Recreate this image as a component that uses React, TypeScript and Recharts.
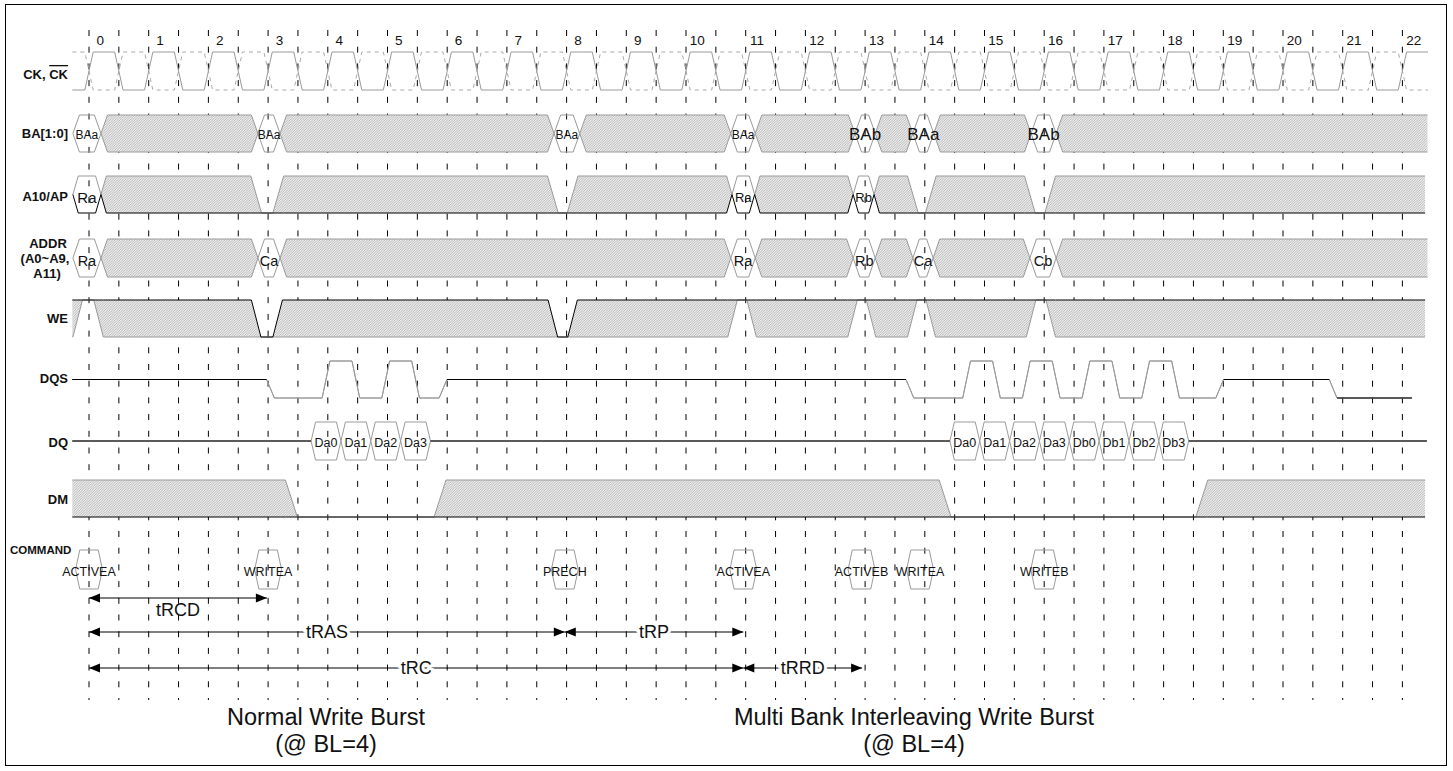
import { ComposedChart, XAxis, YAxis, Line, Area, Scatter, CartesianGrid } from "recharts";

type Step = [number, string, string?];
type Pt = { t: number; lo: number; hi: number; range: [number, number] };
type Row = { top: number; bot: number; w: number };
type Mark = {
  t: number;
  y: number;
  text?: string;
  bar?: string;
  size?: number;
  bold?: boolean;
  anchor?: string;
  halo?: boolean;
  dir?: number;
};

// clock cycle numbers across the top
const CYCLES = ["0", "1", "2", "3", "4", "5", "6", "7", "8", "9", "10", "11", "12", "13", "14", "15", "16", "17", "18", "19", "20", "21", "22"];

// waveforms as [time in cycles, state, label]
// H high, L low, l low (driven), X don't care, V valid, Z mid level
const BA_STEPS: Step[] = [
  [-0.27, "V", "BAa"], [0.2, "X"], [2.83, "V", "BAa"], [3.2, "X"], [7.79, "V", "BAa"], [8.22, "X"],
  [10.75, "V", "BAa"], [11.16, "X"], [12.83, "V", "BAb"], [13.17, "X"], [13.8, "V", "BAa"], [14.15, "X"],
  [15.78, "V", "BAb"], [16.2, "X"], [22.42, "END"],
];
const A10_STEPS: Step[] = [
  [-0.27, "V", "Ra"], [0.2, "X"], [2.8, "L"], [3.17, "X"], [7.77, "L"], [8.1, "X"], [10.77, "V", "Ra"],
  [11.15, "X"], [12.8, "V", "Rb"], [13.15, "X"], [13.8, "L"], [14.1, "X"], [15.76, "L"], [16.1, "X"], [22.38, "END"],
];
const ADDR_STEPS: Step[] = [
  [-0.27, "V", "Ra"], [0.2, "X"], [2.83, "V", "Ca"], [3.2, "X"], [10.75, "V", "Ra"], [11.16, "X"],
  [12.8, "V", "Rb"], [13.17, "X"], [13.8, "V", "Ca"], [14.14, "X"], [15.76, "V", "Cb"], [16.2, "X"], [22.42, "END"],
];
const WE_STEPS: Step[] = [
  [-0.28, "X"], [-0.19, "H"], [0.16, "X"], [2.8, "L"], [3.16, "X"], [7.77, "L"], [8.1, "X"], [10.78, "H"],
  [11.1, "X"], [12.79, "H"], [13.1, "X"], [13.79, "H"], [14.1, "X"], [15.78, "H"], [16.11, "X"], [22.38, "END"],
];
const DQS_STEPS: Step[] = [
  [-0.28, "Z"], [3.04, "L"], [3.97, "H"], [4.47, "L"], [4.97, "H"], [5.47, "L"], [5.93, "Z"],
  [13.75, "L"], [14.7, "H"], [15.2, "L"], [15.7, "H"], [16.2, "L"], [16.7, "H"], [17.2, "L"], [17.7, "H"],
  [18.2, "L"], [18.94, "Z"], [20.84, "l"], [22.16, "END"],
];
const DQ_STEPS: Step[] = [
  [-0.28, "Z"], [3.72, "V", "Da0"], [4.22, "V", "Da1"], [4.72, "V", "Da2"], [5.22, "V", "Da3"], [5.72, "Z"],
  [14.42, "V", "Da0"], [14.92, "V", "Da1"], [15.42, "V", "Da2"], [15.92, "V", "Da3"], [16.42, "V", "Db0"],
  [16.92, "V", "Db1"], [17.42, "V", "Db2"], [17.92, "V", "Db3"], [18.42, "Z"], [22.41, "END"],
];
const DM_STEPS: Step[] = [[-0.28, "X"], [3.39, "L"], [5.88, "X"], [14.34, "L"], [18.64, "X"], [22.38, "END"]];

const COMMANDS: [number, string][] = [
  [0, "ACTIVEA"], [3, "WRITEA"], [7.97, "PRECH"], [10.96, "ACTIVEA"], [12.94, "ACTIVEB"], [13.92, "WRITEA"], [16, "WRITEB"],
];

// [name, from, to, lane]
const TIMINGS: [string, number, number, number][] = [
  ["tRCD", 0, 2.98, 0], ["tRAS", 0, 7.97, 1], ["tRP", 7.97, 10.96, 1], ["tRC", 0, 10.96, 2], ["tRRD", 10.96, 12.95, 2],
];

const TITLES = [["Normal Write Burst", "(@ BL=4)"], ["Multi Bank Interleaving Write Burst", "(@ BL=4)"]];

// ---- layout ----
const WIDTH = 1453;
const HEIGHT = 771;
const CYCLE_PX = 59.7;
const ZERO_PX = 89;
const px2t = (x: number) => (x - ZERO_PX) / CYCLE_PX;

const ROWS: Record<string, Row> = {
  CK: { top: 52, bot: 90, w: 0.07 },
  BA: { top: 115, bot: 152, w: 0.11 },
  A10: { top: 176, bot: 213, w: 0.09 },
  ADDR: { top: 239, bot: 277, w: 0.11 },
  WE: { top: 300, bot: 337, w: 0.08 },
  DQS: { top: 361, bot: 398, w: 0.065 },
  DQ: { top: 422, bot: 460, w: 0.075 },
  DM: { top: 480, bot: 517, w: 0.1 },
  CMD: { top: 550, bot: 589, w: 0.07 },
};
const TIMING_Y = [598, 632, 668];
const TITLE_X = [326, 914];
const GRID_TOP = 30;
const GRID_BOT = 700;

const GREY = "#9a9a9a";
const FONT = "'Liberation Sans', Arial, Helvetica, sans-serif";

const mid = (r: Row) => (r.top + r.bot) / 2;

function level(s: string, r: Row): [number, number] {
  if (s === "H") return [r.top, r.top];
  if (s === "L" || s === "l") return [r.bot, r.bot];
  if (s === "Z") return [mid(r), mid(r)];
  return [r.bot, r.top];
}

const pt = (t: number, [lo, hi]: [number, number]): Pt => ({ t, lo, hi, range: [lo, hi] });

function edge(prev: string | null, next: string | null, b: number, r: Row) {
  const m: [number, number] = [mid(r), mid(r)];
  const w = r.w;
  if (prev === null)
    return next === "V"
      ? { bus: true, pts: [pt(b, m), pt(b + w, level(next, r))] }
      : { bus: false, pts: [pt(b, level(next as string, r))] };
  if (next === null)
    return prev === "V"
      ? { bus: true, pts: [pt(b - w, level(prev, r)), pt(b, m)] }
      : { bus: false, pts: [pt(b, level(prev, r))] };
  if (prev === "V" || next === "V")
    return { bus: true, pts: [pt(b - w, level(prev, r)), pt(b, m), pt(b + w, level(next, r))] };
  return { bus: false, pts: [pt(b - w, level(prev, r)), pt(b + w, level(next, r))] };
}

function buildSignal(steps: Step[], r: Row) {
  const last = steps.length - 1;
  const edges = steps.map((s, i) => edge(i === 0 ? null : steps[i - 1][1], i === last ? null : s[1], s[0], r));
  const envelope = edges.flatMap((e) => e.pts);
  const segs = steps.slice(0, last).map((s, i) => {
    const a = edges[i];
    const b = edges[i + 1];
    const ta = s[0];
    const tb = steps[i + 1][0];
    const head = a.bus ? a.pts.filter((p) => p.t >= ta) : a.pts;
    const tail = b.bus ? b.pts.filter((p) => p.t <= tb) : b.pts;
    const ownHead = a.bus ? head : a.pts.slice(-1);
    const ownTail = b.bus ? tail : b.pts.slice(0, 1);
    return { state: s[1], label: s[2], ta, tb, fill: [...head, ...tail], own: [...ownHead, ...ownTail] };
  });
  return { envelope, segs };
}

function lineEl(key: string, data: any[], dataKey: string, stroke: string, dash?: string) {
  return (
    <Line
      key={key}
      data={data}
      dataKey={dataKey}
      type="linear"
      stroke={stroke}
      strokeWidth={1}
      strokeDasharray={dash}
      dot={false}
      activeDot={false}
      legendType="none"
      isAnimationActive={false}
    />
  );
}

function renderSignal(name: string, steps: Step[], r: Row, up = GREY, lo = GREY) {
  const { envelope, segs } = buildSignal(steps, r);
  const out: any[] = [];
  segs.forEach((s, i) => {
    if (s.state !== "X") return;
    out.push(
      <Area
        key={`${name}-fill-${i}`}
        data={s.fill}
        dataKey="range"
        type="linear"
        fill="url(#hatch)"
        fillOpacity={1}
        stroke="none"
        dot={false}
        activeDot={false}
        legendType="none"
        isAnimationActive={false}
      />
    );
  });
  if (lo === GREY) {
    out.push(lineEl(`${name}-lo`, envelope, "lo", lo));
    out.push(lineEl(`${name}-hi`, envelope, "hi", up));
  } else {
    out.push(lineEl(`${name}-hi`, envelope, "hi", up));
    out.push(lineEl(`${name}-lo`, envelope, "lo", lo));
  }
  segs.forEach((s, i) => {
    if (s.state === "Z" || s.state === "l") out.push(lineEl(`${name}-ink-${i}`, s.own, "hi", "#000"));
  });
  return out;
}

function signalLabels(steps: Step[], r: Row, size: (t: number) => number, dy = 1): Mark[] {
  const marks: Mark[] = [];
  steps.forEach((s, i) => {
    if (s[1] !== "V" || !s[2]) return;
    const t = (s[0] + steps[i + 1][0]) / 2;
    marks.push({ t, y: mid(r) + dy, text: s[2], size: size(t) });
  });
  return marks;
}

// clock and its complement
const ckSteps: Step[] = [
  [-0.28, "L"],
  ...CYCLES.flatMap((_, i): Step[] => (i < CYCLES.length - 1 ? [[i, "H"], [i + 0.5, "L"]] : [[i, "H"]])),
  [22.43, "END"],
];
const ckbSteps: Step[] = ckSteps.map((s): Step => [s[0], s[1] === "H" ? "L" : s[1] === "L" ? "H" : s[1]]);

const commandSteps: Step[][] = COMMANDS.map(([c, label]): Step[] => [[c - 0.225, "V", label], [c + 0.225, "END"]]);

const halfTicks = CYCLES.flatMap((_, i) => (i < CYCLES.length - 1 ? [i, i + 0.5] : [i]));

const labelX = px2t(68);
const rowMarks: Mark[] = [
  { t: labelX, y: 74, text: "CK, ", bar: "CK", size: 13, bold: true, anchor: "end" },
  { t: labelX, y: 133.5, text: "BA[1:0]", size: 13, bold: true, anchor: "end" },
  { t: labelX, y: 196.5, text: "A10/AP", size: 13, bold: true, anchor: "end" },
  { t: px2t(48), y: 243, text: "ADDR", size: 13, bold: true },
  { t: px2t(45), y: 258, text: "(A0~A9,", size: 13, bold: true },
  { t: px2t(47), y: 273, text: "A11)", size: 13, bold: true },
  { t: labelX, y: 318, text: "WE", size: 13, bold: true, anchor: "end" },
  { t: labelX, y: 378, text: "DQS", size: 13, bold: true, anchor: "end" },
  { t: labelX, y: 442, text: "DQ", size: 13, bold: true, anchor: "end" },
  { t: labelX, y: 499, text: "DM", size: 13, bold: true, anchor: "end" },
  { t: px2t(10), y: 550, text: "COMMAND", size: 11.5, bold: true, anchor: "start" },
];

const cycleMarks: Mark[] = CYCLES.map((c, i) => ({ t: i + 0.19, y: 40, text: c, size: 13.5 }));

const valueMarks: Mark[] = [
  ...signalLabels(BA_STEPS, ROWS.BA, (t) => (t > 12.5 ? 17 : 12), 1),
  ...signalLabels(A10_STEPS, ROWS.A10, (t) => (t < 1 ? 15 : 13), 2.5),
  ...signalLabels(ADDR_STEPS, ROWS.ADDR, () => 14.5, 2.5),
  ...signalLabels(DQ_STEPS, ROWS.DQ, () => 12.5, 1.5),
  ...COMMANDS.map(([c, label]) => ({ t: c, y: 572, text: label, size: 12.5 })),
];

const timingMarks: Mark[] = TIMINGS.map(([name, a, b, lane]) => ({
  t: (a + b) / 2,
  y: lane === 0 ? TIMING_Y[lane] + 12 : TIMING_Y[lane],
  text: name,
  size: 18,
  halo: lane !== 0,
}));

const titleMarks: Mark[] = TITLES.flatMap((lines, i) =>
  lines.map((text, j) => ({ t: px2t(TITLE_X[i]), y: 717 + j * 27, text, size: 23.5 }))
);

const arrowMarks: Mark[] = TIMINGS.flatMap(([, a, b, lane]) => [
  { t: a, y: TIMING_Y[lane], dir: -1 },
  { t: b, y: TIMING_Y[lane], dir: 1 },
]);

const TextShape = (props: any) => {
  const m: Mark = props.payload;
  if (props.cx == null || props.cy == null) return null;
  return (
    <text
      x={props.cx}
      y={props.cy}
      fontSize={m.size}
      fontWeight={m.bold ? "bold" : "normal"}
      textAnchor={m.anchor ?? "middle"}
      dominantBaseline="central"
      fontFamily={FONT}
      fill="#111"
      stroke={m.halo ? "#fff" : "none"}
      strokeWidth={m.halo ? 6 : 0}
      paintOrder="stroke"
    >
      {m.text}
      {m.bar ? <tspan style={{ textDecoration: "overline" }}>{m.bar}</tspan> : null}
    </text>
  );
};

const ArrowShape = (props: any) => {
  const { cx, cy, payload } = props;
  if (cx == null || cy == null) return null;
  const d = payload.dir;
  return <path d={`M${cx},${cy} L${cx - d * 11},${cy - 4.5} L${cx - d * 11},${cy + 4.5} Z`} fill="#000" />;
};

export default function App() {
  const texts = [...rowMarks, ...cycleMarks, ...valueMarks, ...timingMarks, ...titleMarks];
  return (
    <div style={{ position: "absolute", left: 0, top: 0, width: WIDTH, height: HEIGHT, background: "#fff", overflow: "hidden" }}>
      <ComposedChart width={WIDTH} height={HEIGHT} margin={{ top: 0, right: 0, bottom: 0, left: 0 }}>
        <defs>
          <pattern id="hatch" width="2.5" height="2.5" patternUnits="userSpaceOnUse">
            <rect width="2.5" height="2.5" fill="#eeeeee" />
            <path d="M0,2.5 L2.5,0 M-1,1 L1,-1 M1.5,3.5 L3.5,1.5" stroke="#a2a2a2" strokeWidth="0.7" />
          </pattern>
        </defs>
        <XAxis type="number" dataKey="t" domain={[px2t(0), px2t(WIDTH)]} ticks={halfTicks} hide />
        <YAxis type="number" dataKey="y" domain={[0, HEIGHT]} reversed hide />

        <CartesianGrid
          horizontal={false}
          vertical
          y={GRID_TOP}
          height={GRID_BOT - GRID_TOP}
          stroke="#000"
          strokeDasharray="6 10.7"
          {...({ verticalValues: halfTicks } as any)}
        />

        {lineEl("ckb", buildSignal(ckbSteps, ROWS.CK).envelope, "hi", "#aaaaaa", "4 4")}
        {lineEl("ck", buildSignal(ckSteps, ROWS.CK).envelope, "hi", GREY)}
        {renderSignal("ba", BA_STEPS, ROWS.BA)}
        {renderSignal("a10", A10_STEPS, ROWS.A10, GREY, "#000")}
        {renderSignal("addr", ADDR_STEPS, ROWS.ADDR)}
        {renderSignal("we", WE_STEPS, ROWS.WE, "#000", GREY)}
        {renderSignal("dqs", DQS_STEPS, ROWS.DQS)}
        {renderSignal("dq", DQ_STEPS, ROWS.DQ)}
        {renderSignal("dm", DM_STEPS, ROWS.DM, GREY, "#000")}
        {commandSteps.flatMap((s, i) => renderSignal(`cmd${i}`, s, ROWS.CMD))}

        {TIMINGS.map(([name, a, b, lane]) =>
          lineEl(`timing-${name}`, [{ t: a, y: TIMING_Y[lane] }, { t: b, y: TIMING_Y[lane] }], "y", "#000")
        )}

        <Scatter data={arrowMarks} shape={ArrowShape} legendType="none" isAnimationActive={false} />
        <Scatter data={texts} shape={TextShape} legendType="none" isAnimationActive={false} />
      </ComposedChart>
      <div
        style={{
          position: "absolute",
          left: 5,
          top: 4,
          width: 1442,
          height: 762,
          border: "1px solid #000",
          boxSizing: "border-box",
          pointerEvents: "none",
        }}
      />
    </div>
  );
}
